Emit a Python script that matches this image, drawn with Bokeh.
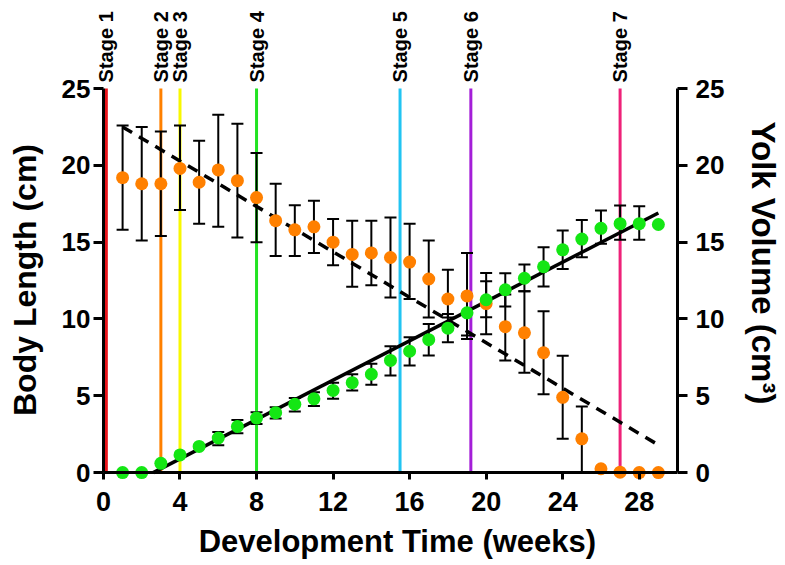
import math
from bokeh.plotting import figure
from bokeh.models import Range1d, LinearAxis, FixedTicker, Whisker, TeeHead, ColumnDataSource
from bokeh.core.properties import value
from bokeh.embed import file_html
from bokeh.resources import INLINE

# ---- data ----
weeks = list(range(1, 30))
body_length = [19.2, 18.8, 18.8, 19.8, 18.9, 19.7, 19.0, 17.9, 16.4, 15.8,
               16.0, 15.0, 14.2, 14.3, 14.0, 13.7, 12.6, 11.3, 11.5, 11.0,
               9.5, 9.1, 7.8, 4.9, 2.2, 0.25, 0.03, 0.0, 0.0]
len_err_weeks = list(range(1, 26))
len_hi = [22.6, 22.5, 22.2, 22.6, 21.6, 23.3, 22.7, 20.8, 18.8, 17.4,
          17.7, 16.5, 16.4, 16.4, 16.6, 16.2, 15.1, 13.2, 14.3, 13.0,
          11.6, 11.8, 10.5, 7.6, 4.3]
len_lo = [15.8, 15.1, 15.4, 17.1, 16.2, 16.0, 15.3, 15.0, 14.1, 14.1,
          14.3, 13.5, 12.1, 12.2, 11.4, 11.3, 10.1, 10.1, 8.7, 9.0,
          7.3, 6.5, 5.1, 2.2, 0.0]

yolk_volume = [0.0, 0.0, 0.6, 1.15, 1.7, 2.25, 3.0, 3.55, 3.9, 4.45,
               4.8, 5.35, 5.85, 6.4, 7.3, 7.9, 8.65, 9.4, 10.4, 11.25,
               11.9, 12.65, 13.4, 14.5, 15.2, 15.9, 16.2, 16.2, 16.15]
vol_err_weeks = list(range(6, 29))
vol_hi = [2.65, 3.43, 3.93, 4.25, 4.86, 5.23, 5.84, 6.4, 7.08, 8.22,
          8.81, 9.68, 10.33, 11.6, 12.45, 12.98, 13.55, 14.67, 15.76, 16.45,
          17.06, 17.38, 17.34]
vol_lo = [1.78, 2.56, 3.17, 3.52, 3.97, 4.34, 4.8, 5.34, 5.71, 6.32,
          6.97, 7.62, 8.48, 8.92, 10.11, 10.81, 11.8, 12.11, 13.26, 14.02,
          14.89, 15.15, 15.15]

fit_len_x = [1.0, 29.0]
fit_len_y = [22.5, 1.8]
fit_vol_x = [2.6, 29.0]
fit_vol_y = [0.0, 16.9]

stage_names = ["Stage 1", "Stage 2", "Stage 3", "Stage 4", "Stage 5", "Stage 6", "Stage 7"]
stage_weeks = [0.15, 3.0, 4.0, 8.0, 15.5, 19.2, 27.0]
stage_colors = ["#E8141B", "#FF8000", "#F8F800", "#22E322", "#22C4F2", "#A41ED8", "#EE2279"]
stage_top = [25.0] * 7
stage_bottom = [0.0] * 7
stage_label_y = [25.4] * 7

x_ticks = [0, 4, 8, 12, 16, 20, 24, 28]
y_ticks = [0, 5, 10, 15, 20, 25]

x_title = "Development Time (weeks)"
y_title = "Body Length (cm)"
y2_title = "Yolk Volume (cm³)"

ORANGE = "#FF8000"
GREEN = "#14E614"
FONT = "Liberation Sans"
NBSP = "\u00a0"  # padding that moves a centred axis title off the frame centre

W, H = 785, 565
p = figure(width=W, height=H, x_range=Range1d(-0.625, 30), y_range=Range1d(-0.45, 30.73),
           output_backend="svg", toolbar_location=None,
           min_border_left=91, min_border_right=W - 679, min_border_top=0,
           min_border_bottom=H - 479)
p.extra_y_ranges = {"vol": Range1d(-0.45, 30.73)}
p.grid.visible = False
p.outline_line_color = None
p.background_fill_color = "white"
p.border_fill_color = "white"

# stage lines and labels
p.segment(x0=stage_weeks, y0=stage_bottom, x1=stage_weeks, y1=stage_top,
          line_color=stage_colors, line_width=3, level="underlay")
p.text(x=stage_weeks, y=stage_label_y, text=stage_names, angle=math.pi / 2,
       text_align="left", text_baseline="middle", text_font=value(FONT),
       text_font_style="bold", text_font_size="20px", text_color="black")

# error bars
len_src = ColumnDataSource(dict(x=len_err_weeks, hi=len_hi, lo=len_lo))
vol_src = ColumnDataSource(dict(x=vol_err_weeks, hi=vol_hi, lo=vol_lo))
for src in (len_src, vol_src):
    w = Whisker(source=src, base="x", upper="hi", lower="lo", dimension="height",
                line_color="black", line_width=2, level="underlay",
                upper_head=TeeHead(size=12, line_width=2, line_color="black"),
                lower_head=TeeHead(size=12, line_width=2, line_color="black"))
    p.add_layout(w)

# fitted lines
p.line(fit_len_x, fit_len_y, line_color="black", line_width=3.5, line_dash="11 8")
p.line(fit_vol_x, fit_vol_y, line_color="black", line_width=3.5)

# points
p.scatter(weeks, body_length, size=13, fill_color=ORANGE, line_color=None)
p.scatter(weeks, yolk_volume, size=13, fill_color=GREEN, line_color=None)


def style_lines(ax):
    ax.axis_line_width = 3
    ax.axis_line_color = "black"
    ax.major_tick_line_width = 3
    ax.major_tick_line_color = "black"
    ax.major_tick_in = 0
    ax.major_tick_out = 10
    ax.minor_tick_line_color = None


def style_text(ax, size="26px", title_size="31px"):
    ax.major_label_text_font = FONT
    ax.major_label_text_font_style = "bold"
    ax.major_label_text_font_size = size
    ax.major_label_text_color = "black"
    ax.axis_label_text_font = FONT
    ax.axis_label_text_font_style = "bold"
    ax.axis_label_text_font_size = title_size
    ax.axis_label_text_color = "black"


def labels_only(ax):
    ax.axis_line_color = None
    ax.major_tick_line_color = None
    ax.minor_tick_line_color = None
    ax.major_tick_in = 0
    ax.major_tick_out = 0


# line + tick axes at x = 0 and y = 0 (no text)
xa = p.xaxis[0]
style_lines(xa)
xa.ticker = FixedTicker(ticks=x_ticks)
xa.bounds = (0, 30)
xa.fixed_location = 0
xa.major_label_text_color = None

ya = p.yaxis[0]
style_lines(ya)
ya.ticker = FixedTicker(ticks=y_ticks)
ya.bounds = (0, 25)
ya.fixed_location = 0
ya.major_label_text_color = None

# text axes in the side panels
xl = LinearAxis(ticker=FixedTicker(ticks=x_ticks), axis_label=NBSP * 3 + x_title)
labels_only(xl)
style_text(xl, "27px", "31px")
xl.major_label_standoff = 12
xl.axis_label_standoff = 10
p.add_layout(xl, "below")

yl = LinearAxis(ticker=FixedTicker(ticks=y_ticks), axis_label=y_title + NBSP * 9)
labels_only(yl)
style_text(yl, "26px", "32px")
yl.major_label_standoff = 1
yl.axis_label_standoff = 16
p.add_layout(yl, "left")

# right axis
ra = LinearAxis(y_range_name="vol", axis_label=NBSP * 5 + y2_title)
style_lines(ra)
style_text(ra, "26px", "33px")
ra.ticker = FixedTicker(ticks=y_ticks)
ra.bounds = (0, 25)
ra.major_label_standoff = 8
ra.axis_label_standoff = 18
p.add_layout(ra, "right")

open("out.html", "w").write(file_html(p, INLINE))
